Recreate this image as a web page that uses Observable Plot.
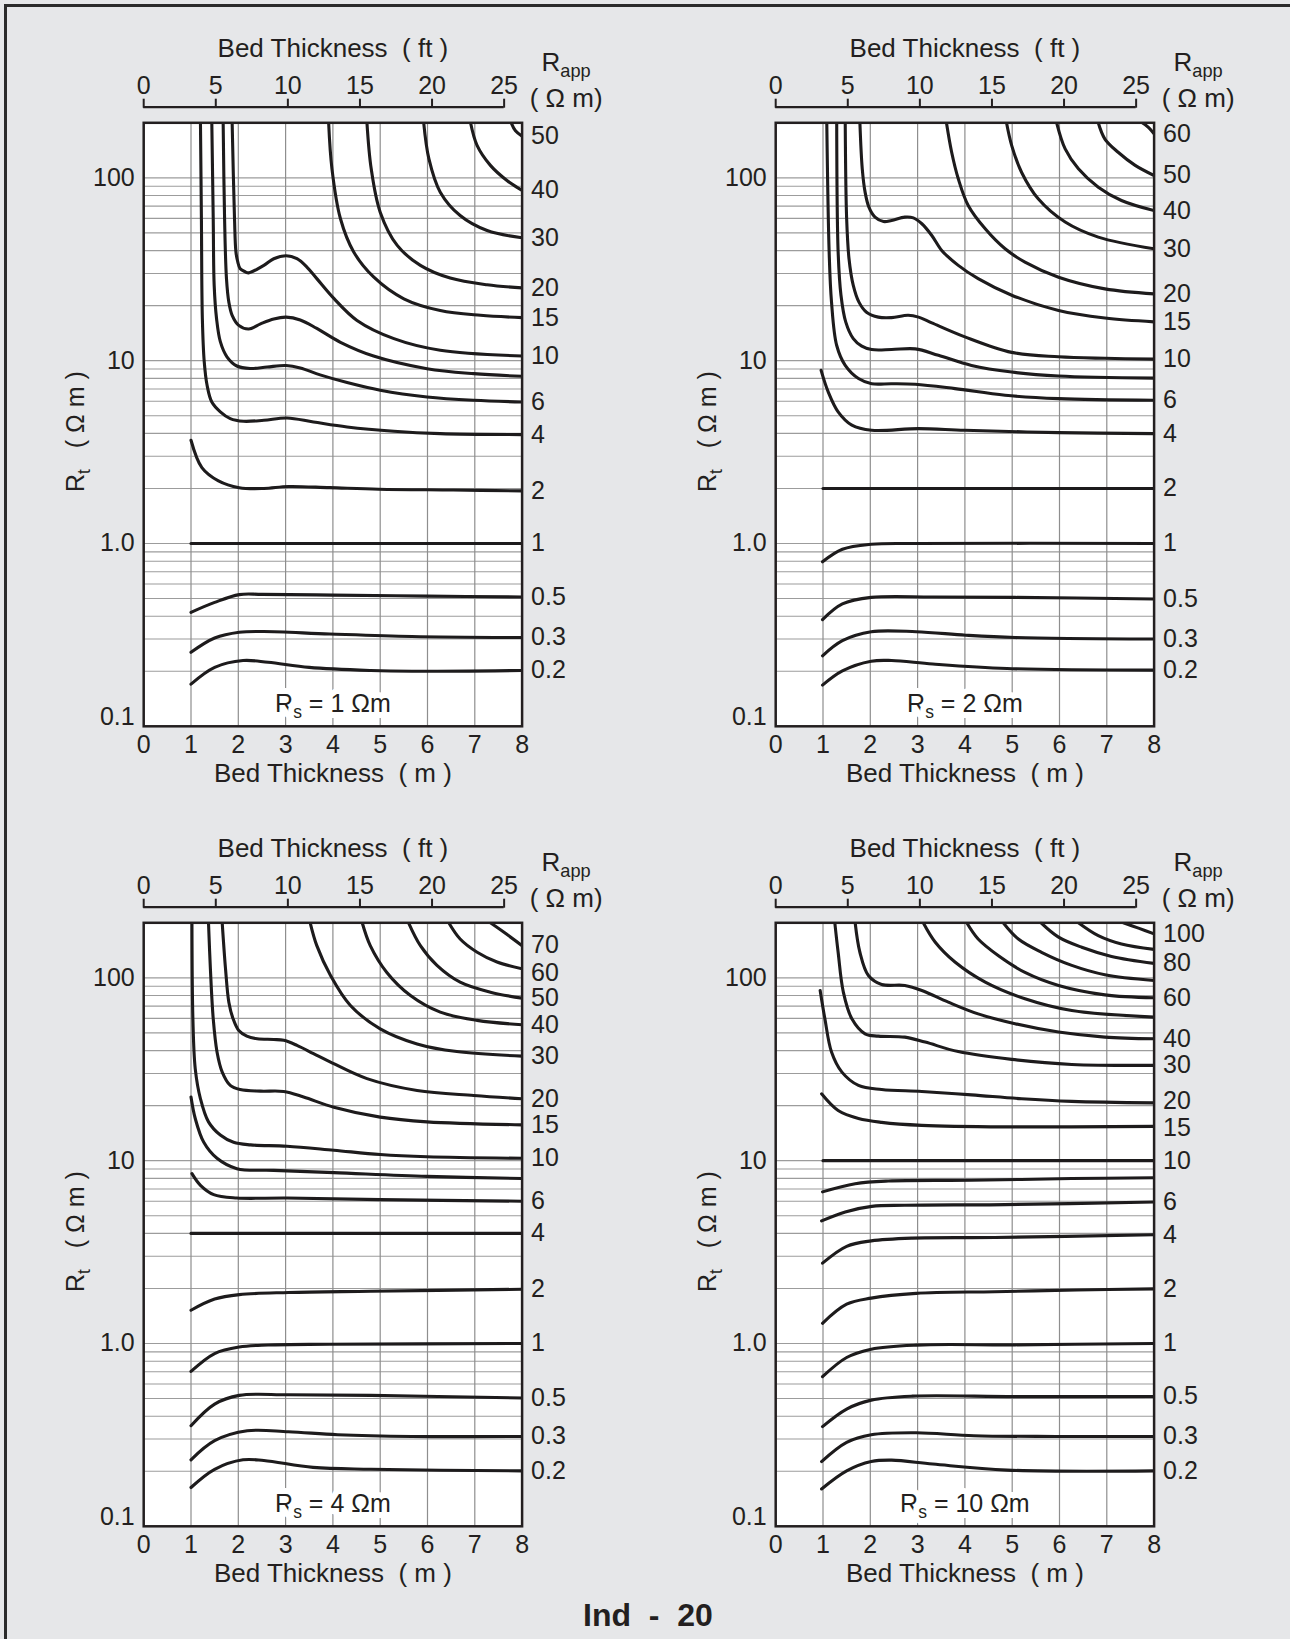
<!DOCTYPE html>
<html><head><meta charset="utf-8">
<script src="https://cdn.jsdelivr.net/npm/d3@7"></script>
<script src="https://cdn.jsdelivr.net/npm/@observablehq/plot@0.6"></script>
<style>
html,body{margin:0;padding:0;}
body{width:1290px;height:1639px;overflow:hidden;background:#e6e7e9;position:relative;font-family:"Liberation Sans",Arial,Helvetica,sans-serif;color:#231f20;}
#border{position:absolute;left:4px;top:4px;width:1330px;height:1690px;border:3px solid #2b2b2b;box-sizing:border-box;}
.panel{position:absolute;width:600px;height:780px;}
.panel svg{position:absolute;left:0;}
svg text{white-space:pre;}
#footer{position:absolute;left:3px;width:1290px;top:1599px;text-align:center;font-weight:bold;font-size:32px;line-height:32px;white-space:pre;}
</style></head><body>
<div id="border"></div>
<div id="footer">Ind  -  20</div>
<script>
// ---------- axes / layout data ----------
const panelRs = [1, 2, 4, 10];
const panelLeft = [20, 652.2, 20, 652.2];
const panelTop = [20, 20, 820, 820];
const xTicksM = [0, 1, 2, 3, 4, 5, 6, 7, 8];
const xTicksFt = [0, 5, 10, 15, 20, 25];
const yLabelTicks = [1, 10, 100];
const yLowTick = [0.1];
const gridRt = [0.2,0.3,0.4,0.5,0.6,0.7,0.8,0.9,1,2,3,4,5,6,7,8,9,10,20,30,40,50,60,70,80,90,100];
const gridM = [1, 2, 3, 4, 5, 6, 7];
const FT = 0.3048;

// ---------- curves: [bed thickness (m), Rt (ohm.m)], one array per Rs ----------
// labelRt: where the right-hand Rapp label sits when it is not exactly at the curve end
const curvesRs1 = [
  {rapp: 50, label: "50", pts: [[7.77,200],[7.86,181],[8,169]]},
  {rapp: 40, label: "40", pts: [[6.91,200],[7.05,150],[7.33,117],[7.68,96.7],[8,85.3]]},
  {rapp: 30, label: "30", pts: [[5.92,200],[6.03,127],[6.27,83.5],[6.69,62.2],[7.26,51.5],[8,47]]},
  {rapp: 20, label: "20", pts: [[4.72,200],[4.81,112],[5.0,64.9],[5.36,42.7],[5.85,33.2],[6.48,28.3],[7.26,26.0],[8,25.0]]},
  {rapp: 15, label: "15", pts: [[3.91,200],[3.98,112],[4.16,59.7],[4.44,39.3],[4.86,28.7],[5.5,21.8],[6.27,18.8],[7.12,17.7],[8,17.2]]},
  {rapp: 10, label: "10", pts: [[1.87,200],[1.92,59.7],[1.95,39.3],[1.99,34.6],[2.04,31.8],[2.15,30.6],[2.22,30.2],[2.54,33.2],[2.75,36.1],[3.01,37.5],[3.24,36.1],[3.45,32.5],[3.66,28.1],[4.02,21.9],[4.51,16.6],[5.29,13.2],[6.27,11.4],[8,10.6]]},
  {rapp: 8, label: null, pts: [[1.68,200],[1.71,59.7],[1.75,28.1],[1.80,20.9],[1.87,17.7],[2.01,15.6],[2.22,14.9],[2.47,15.9],[2.75,16.9],[3.01,17.3],[3.31,16.7],[3.66,15.0],[4.16,12.6],[4.86,10.6],[5.99,9.04],[6.98,8.49],[8,8.21]]},
  {rapp: 6, label: "6", pts: [[1.44,200],[1.47,59.7],[1.49,25.8],[1.54,17.0],[1.62,12.7],[1.76,10.5],[1.97,9.35],[2.25,9.06],[2.61,9.23],[3.01,9.4],[3.31,9.12],[3.73,8.36],[4.30,7.59],[5.0,6.89],[5.99,6.33],[6.98,6.07],[8,5.94]]},
  {rapp: 4, label: "4", pts: [[1.20,200],[1.22,59.7],[1.24,17.0],[1.28,9.84],[1.34,7.33],[1.44,5.94],[1.62,5.25],[1.83,4.82],[2.11,4.66],[2.54,4.72],[3.03,4.86],[3.59,4.62],[4.30,4.34],[5.29,4.11],[6.27,3.99],[8,3.94]]},
  {rapp: 2, label: "2", pts: [[1.0,3.67],[1.23,2.6],[1.58,2.2],[2.02,2.02],[2.54,2.0],[3.06,2.05],[3.93,2.02],[4.97,1.98],[6.54,1.96],[8,1.94]]},
  {rapp: 1, label: "1", pts: [[1,1],[8,1]]},
  {rapp: 0.5, label: "0.5", pts: [[1.0,0.42],[1.5,0.476],[2.02,0.525],[2.5,0.527],[4,0.522],[6,0.515],[8,0.51]]},
  {rapp: 0.3, label: "0.3", pts: [[1.0,0.254],[1.5,0.304],[2.02,0.327],[2.54,0.330],[3.93,0.32],[5.67,0.31],[8,0.306]]},
  {rapp: 0.2, label: "0.2", pts: [[1.0,0.17],[1.5,0.21],[2.1,0.229],[2.63,0.224],[3.5,0.21],[4.8,0.202],[5.67,0.20],[8,0.202]]}
];

const curvesRs2 = [
  {rapp: 60, label: "60", pts: [[7.75,200],[7.88,189],[8,174]]},
  {rapp: 50, label: "50", pts: [[6.82,200],[6.96,163],[7.24,138],[7.60,117],[8,103]]},
  {rapp: 40, label: "40", pts: [[5.94,200],[6.12,144],[6.40,112],[6.82,88.9],[7.31,75.2],[8,66.2]]},
  {rapp: 30, label: "30", pts: [[4.88,200],[4.99,150],[5.20,107],[5.55,76.8],[6.12,57.3],[6.82,47.4],[8,40.9]]},
  {rapp: 20, label: "20", pts: [[3.61,200],[3.72,138],[3.86,98.8],[4.07,70.6],[4.43,52.6],[4.85,40.9],[5.27,34.6],[5.98,28.6],[6.96,24.7],[8,23.2]]},
  {rapp: 15, label: "15", pts: [[1.78,200],[1.83,112],[1.89,83.5],[1.97,69.2],[2.10,61],[2.28,57.7],[2.45,58.5],[2.73,61],[2.91,60.4],[3.09,56.1],[3.30,48.4],[3.51,40.1],[3.86,33.2],[4.28,28.1],[4.99,22.8],[5.98,18.8],[6.96,17.1],[8,16.3]]},
  {rapp: 10, label: "10", pts: [[1.47,200],[1.50,59.7],[1.55,36.1],[1.64,25.8],[1.76,20.9],[1.92,18.4],[2.17,17.3],[2.45,17.2],[2.80,17.7],[3.02,17.3],[3.30,16.1],[4.0,13.5],[4.99,11.1],[5.98,10.5],[6.96,10.3],[8,10.2]]},
  {rapp: 8, label: null, pts: [[1.29,200],[1.32,39.3],[1.38,22.8],[1.48,16.3],[1.64,13.2],[1.82,12.0],[2.03,11.5],[2.45,11.5],[2.95,11.6],[3.44,10.7],[4.14,9.42],[4.99,8.66],[5.98,8.24],[8,8.03]]},
  {rapp: 6, label: "6", pts: [[1.08,200],[1.13,39.3],[1.18,20.9],[1.29,12.1],[1.47,9.42],[1.75,7.98],[2.03,7.48],[2.45,7.48],[2.95,7.43],[3.79,7.03],[4.85,6.47],[5.98,6.20],[8,6.07]]},
  {rapp: 4, label: "4", pts: [[0.96,8.85],[1.11,6.75],[1.32,5.25],[1.61,4.44],[2.03,4.16],[3.02,4.25],[4.0,4.16],[5.98,4.04],[8,3.99]]},
  {rapp: 2, label: "2", pts: [[1,2],[8,2]]},
  {rapp: 1, label: "1", pts: [[0.99,0.794],[1.41,0.93],[2.02,0.99],[3,1.0],[8,1.0]]},
  {rapp: 0.5, label: "0.5", pts: [[0.99,0.383],[1.41,0.467],[2.02,0.507],[3.32,0.51],[5.06,0.507],[8,0.497]]},
  {rapp: 0.3, label: "0.3", pts: [[0.99,0.243],[1.41,0.294],[2.02,0.329],[2.97,0.329],[4.02,0.315],[5.06,0.306],[8,0.30]]},
  {rapp: 0.2, label: "0.2", pts: [[0.99,0.168],[1.41,0.201],[2.02,0.227],[2.45,0.229],[3.32,0.219],[4.89,0.207],[8,0.203]]}
];

const curvesRs4 = [
  {rapp: 70, label: "70", labelRt: 152, pts: [[7.33,200],[7.61,178],[8,150]]},
  {rapp: 60, label: "60", labelRt: 106, pts: [[6.45,200],[6.69,163],[7.05,138],[7.47,122],[8,112]]},
  {rapp: 50, label: "50", pts: [[5.60,200],[5.85,150],[6.20,117],[6.69,94.7],[7.33,83.5],[8,77.4]]},
  {rapp: 40, label: "40", pts: [[4.62,200],[4.79,150],[5.14,107],[5.64,80],[6.27,64.9],[7.05,58.5],[8,55.4]]},
  {rapp: 30, label: "30", pts: [[3.52,200],[3.66,150],[3.95,103],[4.37,70.6],[5.0,52.6],[5.78,43.5],[6.62,39.5],[8,37.3]]},
  {rapp: 20, label: "20", pts: [[1.66,200],[1.73,112],[1.80,73.6],[1.89,59.7],[2.01,51.5],[2.18,48],[2.40,46.4],[2.75,46.0],[2.96,45.5],[3.24,42.7],[3.59,38.5],[3.95,34.6],[4.72,28.1],[5.78,24.2],[6.98,22.7],[8,21.8]]},
  {rapp: 15, label: "15", pts: [[1.37,200],[1.41,112],[1.47,59.7],[1.55,39.3],[1.66,30.5],[1.83,25.8],[2.04,24.5],[2.47,24.0],[2.96,23.9],[3.38,22.3],[4.02,19.6],[5.0,17.3],[5.99,16.3],[8,15.7]]},
  {rapp: 10, label: "10", pts: [[1.02,200],[1.04,59.7],[1.09,31.8],[1.20,21.8],[1.37,16.3],[1.62,13.8],[1.90,12.6],[2.26,12.2],[3.03,12.0],[4.02,11.4],[5.0,10.8],[5.99,10.5],[8,10.3]]},
  {rapp: 8, label: null, pts: [[1.0,22.3],[1.09,17.0],[1.27,12.6],[1.55,10.3],[1.97,9.04],[2.75,8.85],[4.02,8.6],[5.99,8.2],[8,7.99]]},
  {rapp: 6, label: "6", pts: [[1.02,8.49],[1.20,7.33],[1.48,6.52],[1.97,6.25],[3.03,6.25],[5.0,6.12],[8,6.0]]},
  {rapp: 4, label: "4", pts: [[1,4],[8,4]]},
  {rapp: 2, label: "2", pts: [[1.0,1.52],[1.5,1.75],[2.02,1.85],[3.06,1.90],[4.8,1.93],[8,1.98]]},
  {rapp: 1, label: "1", pts: [[1.0,0.703],[1.5,0.881],[2.02,0.957],[2.63,0.981],[3.93,0.99],[8,1.0]]},
  {rapp: 0.5, label: "0.5", pts: [[1.0,0.355],[1.5,0.466],[2.02,0.520],[3.06,0.524],[4.8,0.520],[8,0.503]]},
  {rapp: 0.3, label: "0.3", pts: [[1.0,0.231],[1.5,0.294],[2.19,0.333],[3.06,0.329],[4.1,0.317],[5.67,0.31],[8,0.31]]},
  {rapp: 0.2, label: "0.2", pts: [[1.0,0.163],[1.5,0.205],[2.1,0.231],[2.54,0.229],[3.58,0.21],[4.8,0.205],[8,0.201]]}
];

const curvesRs10 = [
  {rapp: 100, label: "100", pts: [[7.35,200],[7.67,187],[8,174]]},
  {rapp: 90, label: null, pts: [[6.40,200],[6.82,170],[7.31,153],[8,143]]},
  {rapp: 80, label: "80", pts: [[5.61,200],[5.98,167],[6.47,147],[7.10,131],[8,120]]},
  {rapp: 70, label: null, pts: [[4.81,200],[5.13,163],[5.62,138],[6.26,117],[6.96,104],[8,96.7]]},
  {rapp: 60, label: "60", pts: [[4.04,200],[4.28,163],[4.71,132],[5.27,107],[5.98,90.8],[6.96,80.7],[8,77.8]]},
  {rapp: 50, label: null, pts: [[3.12,200],[3.37,157],[3.79,122],[4.43,94.7],[5.27,76.8],[6.26,66.2],[8,61.0]]},
  {rapp: 40, label: "40", pts: [[1.68,200],[1.78,138],[1.96,103],[2.24,92],[2.73,90.8],[3.09,85.3],[3.65,73.6],[4.28,63.5],[5.06,56.1],[5.98,50.5],[6.96,47.4],[8,46.4]]},
  {rapp: 30, label: "30", pts: [[1.25,200],[1.32,138],[1.43,83.5],[1.61,59.7],[1.89,49.4],[2.17,48.0],[2.73,47.4],[3.16,44.5],[3.86,39.5],[4.99,35.8],[6.26,33.6],[8,33.2]]},
  {rapp: 20, label: "20", labelRt: 21.2, pts: [[0.94,85.3],[1.04,59.7],[1.18,39.3],[1.40,30.5],[1.75,25.8],[2.24,24.5],[3.09,23.9],[4.14,22.9],[5.2,21.8],[6.26,21.1],[8,20.7]]},
  {rapp: 15, label: "15", labelRt: 15.0, pts: [[0.97,23.2],[1.32,18.8],[1.75,17.0],[2.24,16.2],[3.09,15.6],[4.85,15.3],[8,15.4]]},
  {rapp: 10, label: "10", pts: [[1,10],[8,10]]},
  {rapp: 8, label: null, pts: [[0.99,6.75],[1.68,7.48],[2.38,7.74],[4.14,7.81],[6.26,7.98],[8,8.07]]},
  {rapp: 6, label: "6", pts: [[0.97,4.68],[1.47,5.24],[2.03,5.62],[2.73,5.70],[4.85,5.75],[8,5.94]]},
  {rapp: 4, label: "4", pts: [[0.99,2.75],[1.5,3.40],[2.02,3.64],[2.89,3.77],[4.63,3.80],[8,3.93]]},
  {rapp: 2, label: "2", pts: [[0.99,1.29],[1.5,1.64],[2.02,1.77],[2.97,1.88],[4.63,1.92],[6.37,1.96],[8,1.99]]},
  {rapp: 1, label: "1", pts: [[0.99,0.658],[1.5,0.838],[2.02,0.931],[2.97,0.98],[5.06,0.983],[8,1.0]]},
  {rapp: 0.5, label: "0.5", pts: [[0.99,0.351],[1.5,0.438],[2.02,0.490],[2.89,0.515],[5.06,0.512],[8,0.513]]},
  {rapp: 0.3, label: "0.3", pts: [[0.97,0.226],[1.5,0.288],[2.02,0.317],[2.97,0.325],[4.19,0.313],[5.93,0.31],[8,0.31]]},
  {rapp: 0.2, label: "0.2", pts: [[0.97,0.160],[1.5,0.201],[2.02,0.226],[2.45,0.230],[3.32,0.219],[4.89,0.203],[8,0.201]]}
];

const panelCurves = [curvesRs1, curvesRs2, curvesRs4, curvesRs10];

// ---------- helpers ----------
const INK = "#231f20";
const TICK_FS = 25;
const TITLE_FS = 26;
const style = {fontFamily: '"Liberation Sans", Arial, Helvetica, sans-serif', fontSize: TICK_FS + "px",
  background: "transparent", color: INK, overflow: "visible"};
const rows = curves => curves.flatMap(c => c.pts.map(([x, rt]) => ({rapp: c.rapp, x, rt})));
const ends = curves => curves.filter(c => c.label).map(c => {
  const p = c.pts[c.pts.length - 1];
  return {label: c.label, x: p[0], rt: c.labelRt ?? p[1]};
});
const fmtY = d => d === 1 ? "1.0" : String(d);

function subscripts(svg) {
  d3.select(svg).selectAll("text").each(function() {
    if (this.querySelector("tspan")) return;
    const m = /^(.*?)R_([a-z]+)(.*)$/.exec(this.textContent);
    if (!m) return;
    const el = d3.select(this);
    el.text(null);
    el.append("tspan").text(m[1] + "R");
    el.append("tspan").attr("font-size", "0.7em").attr("dy", 6).text(m[2]);
    el.append("tspan").attr("dy", -6).text(m[3]);
  });
}

function ftAxis() {
  return Plot.plot({
    width: 600, height: 100,
    marginLeft: 123.2, marginRight: 98.4, marginTop: 86.7, marginBottom: 8.3,
    x: {domain: [0, 8 / FT]},
    y: {domain: [0, 1], axis: null},
    style,
    marks: [
      Plot.ruleY([1], {x1: 0, x2: 25, stroke: INK, strokeWidth: 2.2}),
      Plot.axisX(xTicksFt, {anchor: "top", tickSize: 9, tickPadding: 4, label: null, strokeWidth: 2, fontSize: TICK_FS}),
      Plot.text(["Bed Thickness  ( ft )"], {frameAnchor: "top", lineAnchor: "middle", textAnchor: "middle", dy: -58.7, fontSize: TITLE_FS, fill: INK}),
      Plot.text(["R_app"], {frameAnchor: "top-right", lineAnchor: "middle", textAnchor: "middle", dx: 44, dy: -44.2, fontSize: TITLE_FS, fill: INK}),
      Plot.text(["( Ω m)"], {frameAnchor: "top-right", lineAnchor: "middle", textAnchor: "middle", dx: 44, dy: -8.5, fontSize: TITLE_FS, fill: INK})
    ]
  });
}

function mainPlot(rs, curves) {
  return Plot.plot({
    width: 600, height: 700,
    marginLeft: 123.2, marginRight: 98.4, marginTop: 22.3, marginBottom: 74.2,
    x: {domain: [0, 8]},
    y: {type: "log", domain: [0.1, 200], axis: null},
    style,
    marks: [
      Plot.frame({fill: "white", stroke: "none"}),
      Plot.ruleY(gridRt, {stroke: "#9c9c9c", strokeWidth: 1.1}),
      Plot.ruleX(gridM, {stroke: "#8e8e8e", strokeWidth: 1.2}),
      Plot.text([`R_s = ${rs} Ωm`], {frameAnchor: "bottom", lineAnchor: "middle", textAnchor: "middle", dy: -22.8, fontSize: TICK_FS, fill: INK,
        stroke: "white", strokeWidth: 12, paintOrder: "stroke"}),
      Plot.line(rows(curves), {x: "x", y: "rt", z: "rapp", curve: "catmull-rom",
        stroke: "#1d1b1c", strokeWidth: 3.1, clip: true}),
      Plot.frame({stroke: INK, strokeWidth: 2.5}),
      Plot.text(ends(curves), {x: "x", y: "rt", text: "label", dx: 9, textAnchor: "start", lineAnchor: "middle", fontSize: TICK_FS, fill: INK}),
      Plot.axisX(xTicksM, {tickSize: 0, tickPadding: 9, label: null, fontSize: TICK_FS}),
      Plot.text(yLabelTicks, {frameAnchor: "left", y: d => d, text: fmtY, dx: -9, textAnchor: "end", lineAnchor: "middle", fontSize: TICK_FS, fill: INK}),
      Plot.text(yLowTick, {frameAnchor: "left", y: d => d, text: fmtY, dx: -9, dy: -9, textAnchor: "end", lineAnchor: "middle", fontSize: TICK_FS, fill: INK}),
      Plot.text(["Bed Thickness  ( m )"], {frameAnchor: "bottom", lineAnchor: "middle", textAnchor: "middle", dy: 47, fontSize: TITLE_FS, fill: INK}),
      Plot.text(["R_t   ( Ω m )"], {frameAnchor: "left", lineAnchor: "middle", textAnchor: "middle", dx: -68, dy: 7, rotate: -90, fontSize: TICK_FS, fill: INK})
    ]
  });
}

panelRs.forEach((rs, i) => {
  const div = document.createElement("div");
  div.className = "panel";
  div.style.left = panelLeft[i] + "px";
  div.style.top = panelTop[i] + "px";
  const mp = mainPlot(rs, panelCurves[i]);
  mp.style.top = "80px";
  const ft = ftAxis();
  ft.style.top = "0px";
  div.append(mp, ft);
  document.body.append(div);
  subscripts(mp);
  subscripts(ft);
});
</script>
</body></html>
